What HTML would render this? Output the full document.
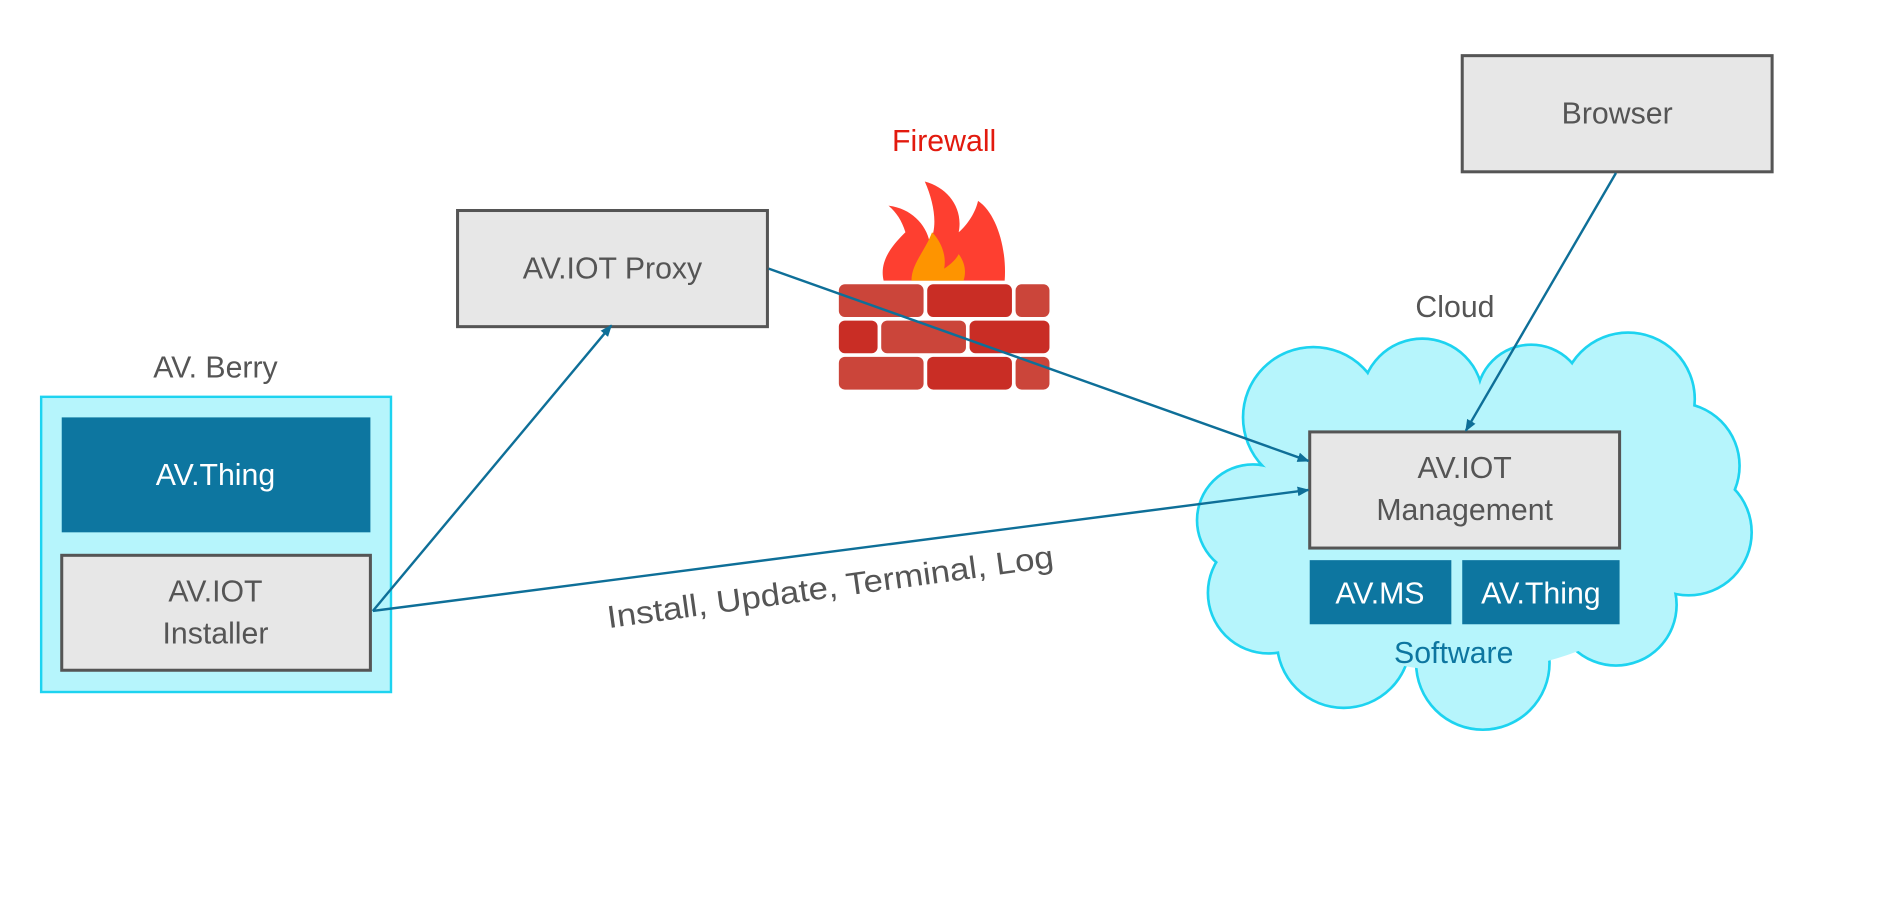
<!DOCTYPE html>
<html><head><meta charset="utf-8"><style>
html,body{margin:0;padding:0;background:#fff;width:1898px;height:911px;overflow:hidden}
svg{display:block}
text{font-family:"Liberation Sans",sans-serif}
</style></head><body>
<svg width="1898" height="911" viewBox="0 0 1568 753" preserveAspectRatio="none">
<defs>
<marker id="ar" markerWidth="10" markerHeight="8" refX="9" refY="4" orient="auto" markerUnits="userSpaceOnUse">
<path d="M0,0 L10,4 L0,8 z" fill="#0e6f98"/></marker>
</defs>
<!-- Cloud -->
<g fill="#b6f5fc" stroke="#1dd3f0" stroke-width="2.4">
<circle cx="1085" cy="345" r="58"/><circle cx="1175" cy="330" r="50"/><circle cx="1265" cy="330" r="45"/>
<circle cx="1345" cy="330" r="55"/><circle cx="1385" cy="385" r="52"/><circle cx="1395" cy="440" r="52"/>
<circle cx="1335" cy="500" r="50"/><circle cx="1225" cy="548" r="55"/><circle cx="1110" cy="530" r="55"/>
<circle cx="1048" cy="490" r="50"/><circle cx="1035" cy="430" r="46"/>
</g>
<g fill="#b6f5fc">
<circle cx="1085" cy="345" r="57"/><circle cx="1175" cy="330" r="49"/><circle cx="1265" cy="330" r="44"/>
<circle cx="1345" cy="330" r="54"/><circle cx="1385" cy="385" r="51"/><circle cx="1395" cy="440" r="51"/>
<circle cx="1335" cy="500" r="49"/><circle cx="1225" cy="548" r="54"/><circle cx="1110" cy="530" r="54"/>
<circle cx="1048" cy="490" r="49"/><circle cx="1035" cy="430" r="45"/>
<ellipse cx="1210" cy="440" rx="180" ry="115"/>
</g>
<text x="1202" y="262" font-size="25" fill="#555" text-anchor="middle">Cloud</text>
<rect x="1082" y="357" width="256" height="96" fill="#e7e7e7" stroke="#555" stroke-width="2.5"/>
<text x="1210" y="395" font-size="25" fill="#555" text-anchor="middle">AV.IOT</text>
<text x="1210" y="430" font-size="25" fill="#555" text-anchor="middle">Management</text>
<rect x="1082" y="463" width="117" height="53" fill="#0d76a0"/>
<rect x="1208" y="463" width="130" height="53" fill="#0d76a0"/>
<text x="1140" y="499" font-size="25" fill="#fff" text-anchor="middle">AV.MS</text>
<text x="1273" y="499" font-size="25" fill="#fff" text-anchor="middle">AV.Thing</text>
<text x="1201" y="548" font-size="25" fill="#0d76a0" text-anchor="middle">Software</text>
<!-- Browser -->
<rect x="1208" y="46" width="256" height="96" fill="#e7e7e7" stroke="#555" stroke-width="2.5"/>
<text x="1336" y="102" font-size="25" fill="#555" text-anchor="middle">Browser</text>
<!-- Proxy -->
<rect x="378" y="174" width="256" height="96" fill="#e7e7e7" stroke="#555" stroke-width="2.5"/>
<text x="506" y="230" font-size="25" fill="#555" text-anchor="middle">AV.IOT Proxy</text>
<!-- Firewall -->
<text x="780" y="125" font-size="25" fill="#e21a0e" text-anchor="middle">Firewall</text>
<path d="M730,232 C726,215 738,202 748,192 C745,182 740,175 734,170 C752,172 765,185 768,200 C775,188 772,168 764,150 C783,155 796,172 792,192 C800,185 806,175 808,166 C823,176 832,205 830,232 Z" fill="#fe3f30"/>
<path d="M753,232 C753,218 764,208 770,192 C778,200 782,212 780,222 C786,218 790,214 792,210 C798,218 798,226 796,232 Z" fill="#fe9400"/>
<g>
<rect x="693" y="235" width="70" height="27" rx="5" fill="#cb453a"/>
<rect x="766" y="235" width="70" height="27" rx="5" fill="#c92d25"/>
<rect x="839" y="235" width="28" height="27" rx="5" fill="#cb453a"/>
<rect x="693" y="265" width="32" height="27" rx="5" fill="#c92d25"/>
<rect x="728" y="265" width="70" height="27" rx="5" fill="#cb453a"/>
<rect x="801" y="265" width="66" height="27" rx="5" fill="#c92d25"/>
<rect x="693" y="295" width="70" height="27" rx="5" fill="#cb453a"/>
<rect x="766" y="295" width="70" height="27" rx="5" fill="#c92d25"/>
<rect x="839" y="295" width="28" height="27" rx="5" fill="#cb453a"/>
</g>
<!-- AV Berry -->
<text x="178" y="312" font-size="25" fill="#555" text-anchor="middle">AV. Berry</text>
<rect x="34" y="328" width="289" height="244" fill="#b6f5fc" stroke="#1dd3f0" stroke-width="2"/>
<rect x="51" y="345" width="255" height="95" fill="#0d76a0"/>
<text x="178" y="401" font-size="25" fill="#fff" text-anchor="middle">AV.Thing</text>
<rect x="51" y="459" width="255" height="95" fill="#e7e7e7" stroke="#555" stroke-width="2.5"/>
<text x="178" y="497" font-size="25" fill="#555" text-anchor="middle">AV.IOT</text>
<text x="178" y="532" font-size="25" fill="#555" text-anchor="middle">Installer</text>
<!-- Connectors -->
<g stroke="#0e6f98" stroke-width="2" fill="none" marker-end="url(#ar)">
<line x1="308" y1="505" x2="505" y2="269"/>
<line x1="635" y1="222" x2="1081" y2="381"/>
<line x1="308" y1="505" x2="1081" y2="405"/>
<line x1="1335" y1="143" x2="1211" y2="356"/>
</g>
<text x="686" y="494" font-size="26" fill="#555" text-anchor="middle" textLength="372" lengthAdjust="spacingAndGlyphs" transform="rotate(-7.8 686 486)">Install, Update, Terminal, Log</text>
</svg>
</body></html>
